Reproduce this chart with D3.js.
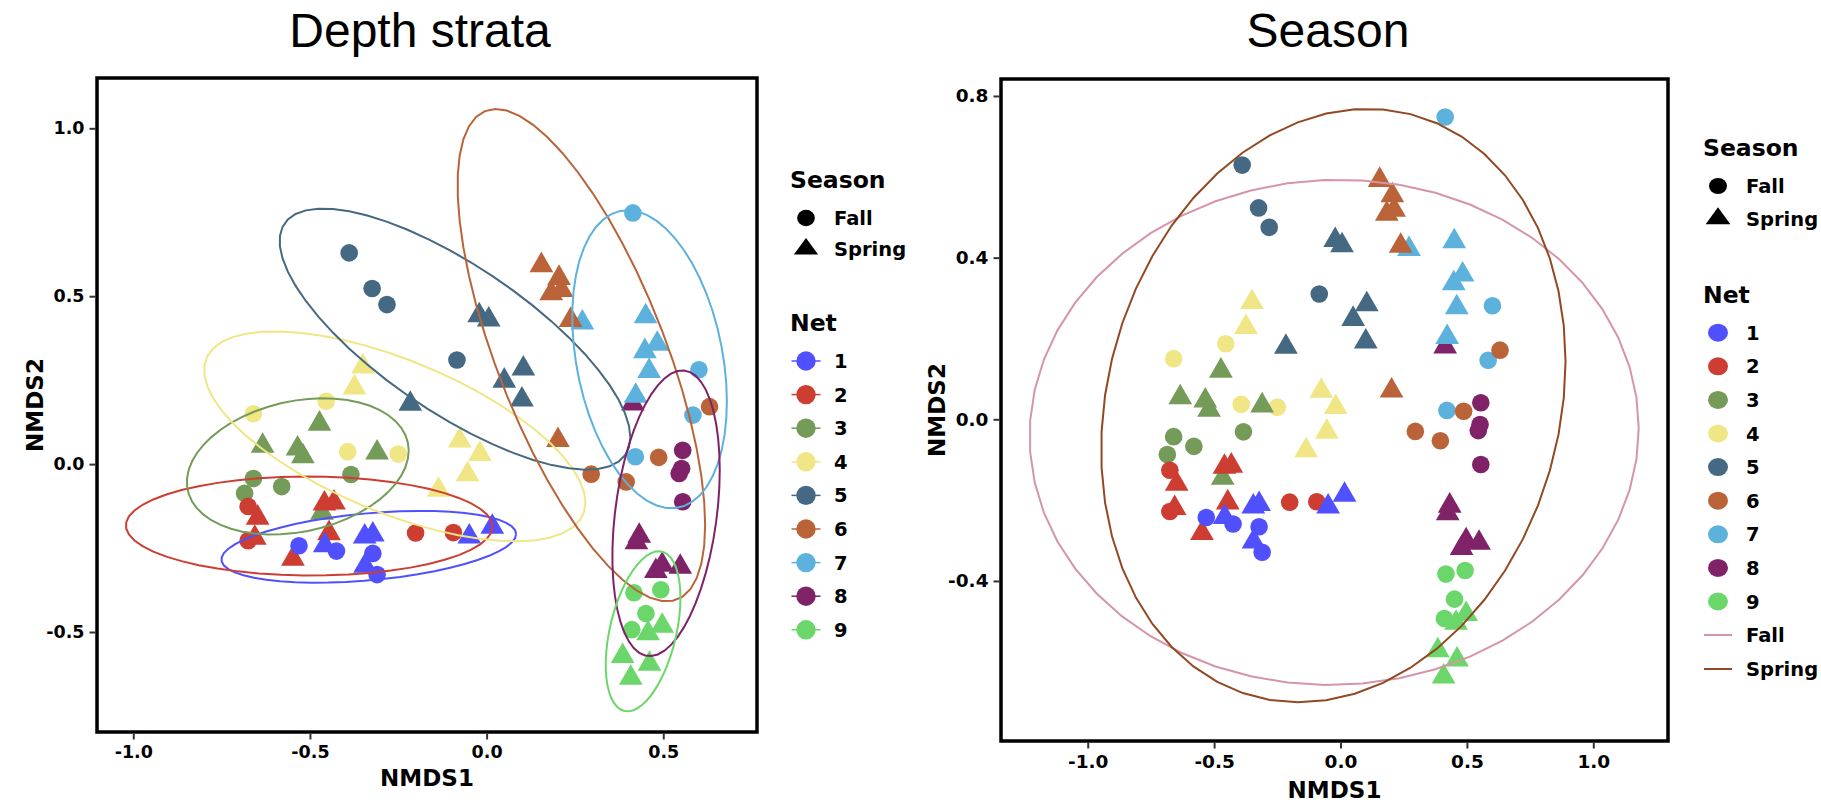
<!DOCTYPE html>
<html><head><meta charset="utf-8">
<script src="https://cdn.jsdelivr.net/npm/d3@7"></script>
<style>body{margin:0;background:#fff}svg{display:block}</style>
</head><body>
<svg id="c" width="1821" height="802"></svg>
<script>
// ---------- data ----------
const nets = ["1","2","3","4","5","6","7","8","9"];
const netColors = ["#5050FF","#CE3D32","#749B58","#F0E685","#466983","#BA6338","#5DB1DD","#802268","#6BD76B"];
const seasons = ["Fall","Spring"];
const seasonEllipseColors = ["#D595A7","#924822"];

const net1Fall   = [[-0.531,-0.243],[-0.425,-0.259],[-0.322,-0.266],[-0.310,-0.329]];
const net1Spring = [[-0.458,-0.242],[-0.345,-0.216],[-0.322,-0.210],[-0.344,-0.303],[-0.049,-0.216],[0.016,-0.187]];
const net2Fall   = [[-0.675,-0.126],[-0.675,-0.228],[-0.201,-0.205],[-0.094,-0.204]];
const net2Spring = [[-0.648,-0.160],[-0.656,-0.220],[-0.459,-0.118],[-0.432,-0.115],[-0.446,-0.206],[-0.548,-0.282]];
const net3Fall   = [[-0.384,-0.031],[-0.660,-0.043],[-0.580,-0.067],[-0.685,-0.087]];
const net3Spring = [[-0.473,0.120],[-0.634,0.054],[-0.535,0.046],[-0.520,0.023],[-0.310,0.034],[-0.466,-0.145]];
const net4Fall   = [[-0.454,0.187],[-0.660,0.150],[-0.393,0.037],[-0.250,0.030]];
const net4Spring = [[-0.350,0.290],[-0.374,0.228],[-0.076,0.070],[-0.019,0.030],[-0.054,-0.031],[-0.136,-0.077]];
const net5Fall   = [[-0.389,0.629],[-0.324,0.523],[-0.282,0.475],[-0.084,0.310]];
const net5Spring = [[-0.216,0.179],[-0.021,0.443],[0.006,0.430],[0.104,0.284],[0.050,0.248],[0.100,0.192]];
const net6Fall   = [[0.631,0.171],[0.487,0.020],[0.296,-0.030],[0.395,-0.053]];
const net6Spring = [[0.155,0.592],[0.205,0.554],[0.183,0.508],[0.212,0.518],[0.238,0.429],[0.202,0.071]];
const net7Fall   = [[0.414,0.748],[0.601,0.281],[0.584,0.146],[0.421,0.022]];
const net7Spring = [[0.271,0.421],[0.450,0.440],[0.483,0.358],[0.448,0.336],[0.460,0.277],[0.422,0.203]];
const net8Fall   = [[0.555,0.041],[0.552,-0.013],[0.545,-0.028],[0.555,-0.112]];
const net8Spring = [[0.414,0.180],[0.432,-0.214],[0.424,-0.233],[0.497,-0.300],[0.548,-0.306],[0.479,-0.319]];
const net9Fall   = [[0.417,-0.383],[0.493,-0.374],[0.451,-0.445],[0.411,-0.493]];
const net9Spring = [[0.497,-0.482],[0.457,-0.504],[0.385,-0.572],[0.461,-0.595],[0.408,-0.637]];

const fallSets   = [net1Fall,net2Fall,net3Fall,net4Fall,net5Fall,net6Fall,net7Fall,net8Fall,net9Fall];
const springSets = [net1Spring,net2Spring,net3Spring,net4Spring,net5Spring,net6Spring,net7Spring,net8Spring,net9Spring];

const leftXTicks = [-1.0,-0.5,0.0,0.5];
const leftYTicks = [-0.5,0.0,0.5,1.0];
const rightXTicks = [-1.0,-0.5,0.0,0.5,1.0];
const rightYTicks = [-0.4,0.0,0.4,0.8];

// ---------- build samples ----------
const samples = [];
nets.forEach((n,i)=>{
  fallSets[i].forEach(p=>samples.push({net:n, season:"Fall", x:p[0], y:p[1]}));
  springSets[i].forEach(p=>samples.push({net:n, season:"Spring", x:p[0], y:p[1]}));
});
const drawOrder = samples.slice().sort((a,b)=>(+b.net)-(+a.net));
const colorOf = d3.scaleOrdinal().domain(nets).range(netColors);

// ---------- stat_ellipse (type = "t", level 0.95) ----------
function covTrob(pts){
  const n=pts.length, p=2, nu=5;
  let loc=[d3.mean(pts,d=>d[0]), d3.mean(pts,d=>d[1])];
  let w=pts.map(()=>1), X;
  for(let it=0; it<25; it++){
    const w0=w.slice();
    X=pts.map(d=>[d[0]-loc[0], d[1]-loc[1]]);
    const sw=d3.sum(w);
    let a=0,b=0,c=0;
    X.forEach((v,i)=>{a+=w[i]*v[0]*v[0]; b+=w[i]*v[0]*v[1]; c+=w[i]*v[1]*v[1];});
    a/=sw; b/=sw; c/=sw;
    const det=a*c-b*b, ia=c/det, ib=-b/det, ic=a/det;
    const Q=X.map(v=>ia*v[0]*v[0]+2*ib*v[0]*v[1]+ic*v[1]*v[1]);
    w=Q.map(q=>(nu+p)/(nu+q));
    const s2=d3.sum(w);
    loc=[d3.sum(pts,(d,i)=>w[i]*d[0])/s2, d3.sum(pts,(d,i)=>w[i]*d[1])/s2];
    if (w.every((v,i)=>Math.abs(v-w0[i])<0.01)) break;
  }
  let a=0,b=0,c=0;
  X.forEach((v,i)=>{a+=w[i]*v[0]*v[0]; b+=w[i]*v[0]*v[1]; c+=w[i]*v[1]*v[1];});
  return {center:loc, cov:[a/n,b/n,c/n]};
}
function ellipsePts(pts){
  const {center, cov} = covTrob(pts);
  const d = pts.length-1;
  const qf = (d/2)*(Math.pow(0.05,-2/d)-1);
  const r = Math.sqrt(2*qf);
  const A=Math.sqrt(cov[0]), B=cov[1]/A, C=Math.sqrt(cov[2]-B*B);
  const out=[];
  for(let k=0;k<=51;k++){
    const t=k*2*Math.PI/51, cs=Math.cos(t), sn=Math.sin(t);
    out.push([center[0]+r*A*cs, center[1]+r*(B*cs+C*sn)]);
  }
  return out;
}

const svg = d3.select("#c");
const TXT = "'DejaVu Sans', sans-serif";

const symCircle = d3.symbol().type(d3.symbolCircle).size(244);
const symTri = d3.symbol().type(d3.symbolTriangle).size(244);

function panel(opts){
  const g = svg.append("g");
  const x = d3.scaleLinear().domain(opts.xd).range([opts.x0, opts.x1]);
  const y = d3.scaleLinear().domain(opts.yd).range([opts.y1, opts.y0]);
  const clipId = "clip"+opts.id;
  svg.append("clipPath").attr("id",clipId).append("rect")
    .attr("x",opts.x0).attr("y",opts.y0).attr("width",opts.x1-opts.x0).attr("height",opts.y1-opts.y0);
  // points
  g.append("g").selectAll("path").data(drawOrder).join("path")
    .attr("transform",d=>`translate(${x(d.x)},${y(d.y)})`)
    .attr("d",d=>d.season==="Fall"?symCircle():symTri())
    .attr("fill",d=>colorOf(d.net));
  // ellipses
  const line = d3.line().x(d=>x(d[0])).y(d=>y(d[1]));
  const eg = g.append("g").attr("clip-path",`url(#${clipId})`);
  opts.groups.forEach(gr=>{
    eg.append("path").attr("d",line(ellipsePts(gr.pts))).attr("fill","none")
      .attr("stroke",gr.color).attr("stroke-width",2);
  });
  // frame
  g.append("rect").attr("x",opts.x0).attr("y",opts.y0).attr("width",opts.x1-opts.x0).attr("height",opts.y1-opts.y0)
    .attr("fill","none").attr("stroke","#000").attr("stroke-width",3.5);
  // axes
  const xa = d3.axisBottom(x).tickValues(opts.xt).tickFormat(d3.format(".1f")).tickSize(6).tickPadding(6);
  const ya = d3.axisLeft(y).tickValues(opts.yt).tickFormat(d3.format(".1f")).tickSize(6).tickPadding(5);
  const gx = g.append("g").attr("transform",`translate(0,${opts.y1+1.5})`).call(xa);
  const gy = g.append("g").attr("transform",`translate(${opts.x0-1.5},0)`).call(ya);
  [gx,gy].forEach(a=>{
    a.select(".domain").remove();
    a.selectAll(".tick line").attr("stroke","#333").attr("stroke-width",2);
    a.selectAll(".tick text").attr("fill","#000").attr("font-family",TXT).attr("font-weight","bold")
      .attr("font-size",opts.tickFs).text(d=>d3.format(".1f")(d).replace("−","-"));
  });
  gx.selectAll(".tick text").attr("dy","0.71em");
  // titles
  svg.append("text").attr("x",opts.titleX).attr("y",47).attr("text-anchor","middle")
    .attr("font-family","'Liberation Sans', Arial, sans-serif").attr("font-size",48).attr("fill","#000").text(opts.title);
  svg.append("text").attr("x",(opts.x0+opts.x1)/2).attr("y",opts.xTitleY).attr("text-anchor","middle")
    .attr("font-family",TXT).attr("font-weight","bold").attr("font-size",23).text("NMDS1");
  svg.append("text").attr("transform",`translate(${opts.yTitleX},${(opts.y0+opts.y1)/2}) rotate(-90)`)
    .attr("text-anchor","middle").attr("font-family",TXT).attr("font-weight","bold").attr("font-size",23).text("NMDS2");
}

panel({id:"L", x0:97, x1:757, y0:78, y1:732, xd:[-1.1027,0.7653], yd:[-0.7978,1.1498],
  xt:leftXTicks, yt:leftYTicks, tickFs:17.5, title:"Depth strata", titleX:420, xTitleY:786, yTitleX:43,
  groups: nets.map((n,i)=>({pts:fallSets[i].concat(springSets[i]), color:netColors[i]}))});

panel({id:"R", x0:1001, x1:1668, y0:79, y1:741, xd:[-1.343,1.2955], yd:[-0.796,0.842],
  xt:rightXTicks, yt:rightYTicks, tickFs:18.5, title:"Season", titleX:1328, xTitleY:798, yTitleX:945,
  groups: [{pts:fallSets.flat(), color:seasonEllipseColors[0]},{pts:springSets.flat(), color:seasonEllipseColors[1]}]});

// ---------- legends ----------
function triPath(cx,cy,w,h){ return `M${cx},${cy-2*h/3}L${cx+w/2},${cy+h/3}L${cx-w/2},${cy+h/3}Z`; }
function legend(o){
  const g = svg.append("g").attr("font-family",TXT).attr("font-weight","bold").attr("fill","#000");
  g.append("text").attr("x",o.tx).attr("y",o.seasonY).attr("font-size",o.titleFs).text("Season");
  g.append("ellipse").attr("cx",o.kx).attr("cy",o.fallY).attr("rx",o.cw/2).attr("ry",o.ch/2).attr("fill","#000");
  g.append("path").attr("d",triPath(o.kx,o.springY,o.tw,o.th)).attr("fill","#000");
  g.append("text").attr("x",o.lx).attr("y",o.fallY+7).attr("font-size",o.labFs).text(seasons[0]);
  g.append("text").attr("x",o.lx).attr("y",o.springY+7).attr("font-size",o.labFs).text(seasons[1]);
  g.append("text").attr("x",o.tx).attr("y",o.netY).attr("font-size",o.titleFs).text("Net");
  nets.forEach((n,i)=>{
    const cy=o.item0+i*o.step;
    if(o.withLine) g.append("line").attr("x1",o.kx-14.5).attr("x2",o.kx+14.5).attr("y1",cy).attr("y2",cy)
      .attr("stroke",netColors[i]).attr("stroke-width",1.5);
    g.append("ellipse").attr("cx",o.kx).attr("cy",cy).attr("rx",o.nrx).attr("ry",o.nry).attr("fill",netColors[i]);
    g.append("text").attr("x",o.lx).attr("y",cy+7).attr("font-size",o.labFs).text(n);
  });
  if(o.seasonLines){
    seasons.forEach((s,i)=>{
      const cy=o.lineY0+i*34;
      g.append("line").attr("x1",o.kx-14).attr("x2",o.kx+14).attr("y1",cy).attr("y2",cy)
        .attr("stroke",seasonEllipseColors[i]).attr("stroke-width",2);
      g.append("text").attr("x",o.lx).attr("y",cy+7).attr("font-size",o.labFs).text(s);
    });
  }
}
legend({tx:790, kx:806, lx:834, seasonY:188, fallY:218, springY:249, netY:331, item0:361, step:33.6,
  titleFs:23.5, labFs:19.5, cw:17.7, ch:16.5, tw:24.3, th:16.5, nrx:9.7, nry:9.7, withLine:true, seasonLines:false});
legend({tx:1703, kx:1718, lx:1746, seasonY:155.5, fallY:186, springY:218.6, netY:303, item0:332.7, step:33.6,
  titleFs:23.5, labFs:19.5, cw:18, ch:16, tw:24.7, th:17, nrx:10, nry:9, withLine:false, seasonLines:true, lineY0:635});
</script>
</body></html>
